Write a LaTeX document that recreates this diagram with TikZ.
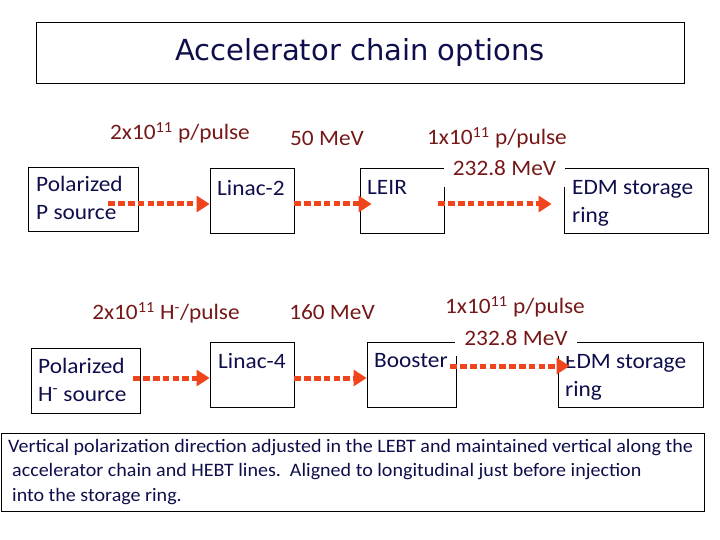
\documentclass[tikz,border=0pt]{standalone}
\usepackage{fontspec}
\setmainfont{Carlito}[FakeStretch=1.06]
\newfontfamily\notefont{Carlito}[FakeStretch=1.055]
\newfontfamily\titlefont{DejaVu Sans}
\usetikzlibrary{arrows.meta}
\definecolor{beamred}{HTML}{F0441C}
\definecolor{lblred}{HTML}{761818}
\definecolor{boxblue}{HTML}{0E0E4C}
\tikzset{
  box/.style={draw, line width=0.8pt, inner sep=0pt},
  boxtext/.style={text=boxblue, font=\fontsize{22}{28}\selectfont, align=left, anchor=north west, inner sep=0pt},
  lbl/.style={text=lblred, font=\fontsize{22}{26}\selectfont, inner sep=0pt},
  beam/.style={draw=beamred, line width=5pt, dash pattern=on 6.5pt off 3.3pt,
    -{Triangle[length=13pt,width=16pt]}},
}
\begin{document}
\begin{tikzpicture}[x=1pt,y=-1pt]
\useasboundingbox (0,0) rectangle (720,540);
\coordinate (rowA) at (0,204);
\coordinate (rowB) at (0,378);
\coordinate (rowC) at (0,366);

% title
\node[box, minimum width=648pt, minimum height=61pt, text=boxblue,
  font=\titlefont\fontsize{29}{32}\selectfont] (title) at (360,52.5) {Accelerator chain options};

% chain with Linac-2 and LEIR
\node[box, minimum width=110pt, minimum height=64pt] (psrc) at (83,199) {};
\node[box, minimum width=84pt, minimum height=65pt] (linac2) at (252,200.5) {};
\node[box, minimum width=84pt, minimum height=65pt] (leir) at (402,200.5) {};
\node[box, minimum width=144pt, minimum height=65pt] (edmA) at (636,200.5) {};
\node[boxtext] (psrctext) at (36,176) {Polarized\\P source};
\node[boxtext] (linac2text) at (217,180) {Linac-2};
\node[boxtext] (leirtext) at (367,180) {LEIR};
\node[boxtext] (edmAtext) at (572,180) {EDM storage\\ring};

\node[lbl] (intA) at (180,133) {2x10\textsuperscript{11} p/pulse};
\node[lbl] (enA) at (327,138) {50 MeV};
\node[lbl] (intB) at (497,138) {1x10\textsuperscript{11} p/pulse};
\node[lbl, fill=white, minimum width=121pt, minimum height=37pt] (enB) at (504.5,168.5) {232.8 MeV};

\draw[beam, shorten <=-30pt] (psrc.east |- rowA) -- (linac2.west |- rowA);
\draw[beam, shorten >=-12pt] (linac2.east |- rowA) -- (leir.west |- rowA);
\draw[beam, shorten <=-6pt, shorten >=12pt] (leir.east |- rowA) -- (edmA.west |- rowA);

% chain with Linac-4 and Booster
\node[box, minimum width=109pt, minimum height=65pt] (hsrc) at (85.5,380.5) {};
\node[box, minimum width=84pt, minimum height=65pt] (linac4) at (252,374.5) {};
\node[box, minimum width=89pt, minimum height=65pt] (booster) at (411.5,374.5) {};
\node[box, minimum width=145pt, minimum height=65pt] (edmB) at (630.5,374.5) {};
\node[boxtext] (hsrctext) at (38,358) {Polarized\\H\textsuperscript{-} source};
\node[boxtext] (linac4text) at (218,353) {Linac-4};
\node[boxtext] (boostertext) at (374,353) {Booster};
\node[boxtext] (edmBtext) at (565,354) {EDM storage\\ring};

\node[lbl] (intC) at (166,313) {2x10\textsuperscript{11} H\textsuperscript{-}/pulse};
\node[lbl] (enC) at (332,312) {160 MeV};
\node[lbl] (intD) at (515,307) {1x10\textsuperscript{11} p/pulse};
\node[lbl, fill=white, minimum width=122pt, minimum height=36pt] (enD) at (516,338) {232.8 MeV};

\draw[beam, shorten <=-7pt] (hsrc.east |- rowB) -- (linac4.west |- rowB);
\draw[beam] (linac4.east |- rowB) -- (booster.west |- rowB);
\draw[beam, shorten <=-6pt, shorten >=-12pt] (booster.east |- rowC) -- (edmB.west |- rowC);

% note
\node[box, minimum width=703pt, minimum height=78pt] (note) at (352.5,472) {};
\node[text=boxblue, font=\notefont\fontsize{19}{24.5}\selectfont, align=left,
  anchor=north west, inner sep=0pt] (notetext) at (8,439)
  {Vertical polarization direction adjusted in the LEBT and maintained vertical along the\\
   \hspace*{4pt}accelerator chain and HEBT lines.\ \ Aligned to longitudinal just before injection\\
   \hspace*{4pt}into the storage ring.};
\end{tikzpicture}
\end{document}
